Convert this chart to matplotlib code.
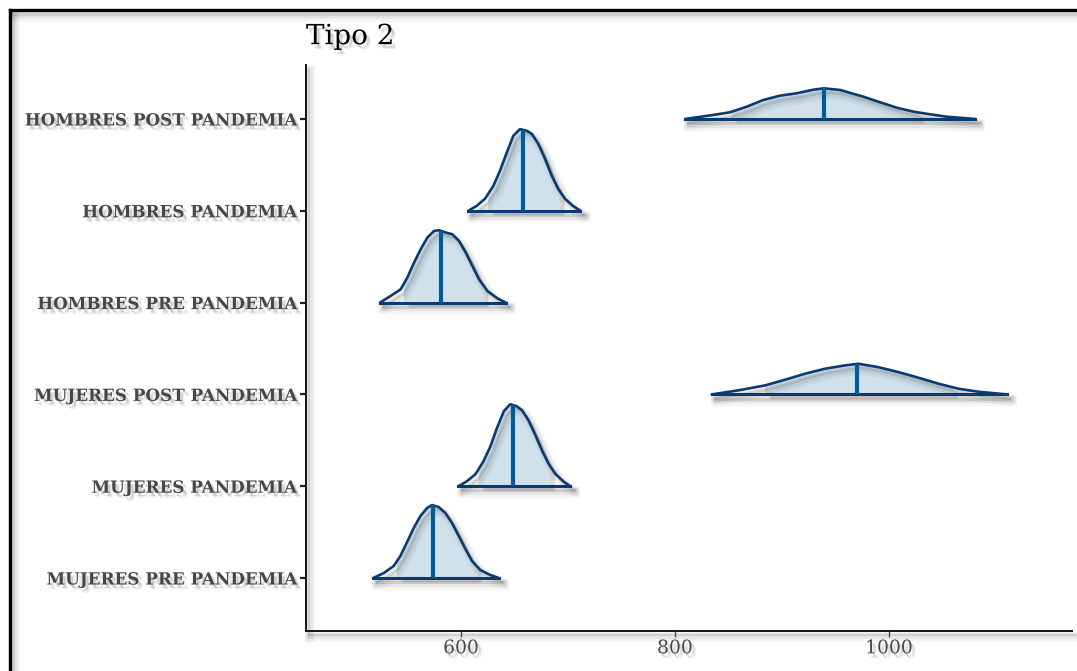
import matplotlib
matplotlib.use("Agg")
import matplotlib.pyplot as plt
import numpy as np
from matplotlib import patheffects as pe
from matplotlib.lines import Line2D

# ---------------- data ----------------
groups = ["HOMBRES POST PANDEMIA", "HOMBRES PANDEMIA", "HOMBRES PRE PANDEMIA",
          "MUJERES POST PANDEMIA", "MUJERES PANDEMIA", "MUJERES PRE PANDEMIA"]

hpost_x = [809.3, 835.8, 851.4, 867.0, 882.5, 898.1, 913.7, 929.3, 939.3, 954.2,
           976.0, 991.6, 1007.2, 1022.7, 1038.3, 1053.9, 1080.4]
hpost_d = [0, .044, .073, .134, .207, .254, .280, .319, .334, .316,
           .243, .182, .123, .080, .051, .025, 0]

hpan_x = [606.8, 614.7, 622.4, 630.2, 636.4, 642.7, 648.9, 655.1, 661.4, 666.1,
          672.2, 678.5, 684.8, 690.9, 697.5, 704.5, 711.5]
hpan_d = [0, .054, .131, .272, .436, .632, .817, .890, .871, .839,
          .730, .566, .381, .236, .127, .054, 0]

hpre_x = [524.3, 534.3, 543.6, 549.8, 556.1, 562.3, 568.5, 574.8, 579.4, 585.7,
          591.9, 598.1, 604.4, 610.6, 616.8, 624.6, 633.9, 641.8]
hpre_d = [0, .073, .145, .272, .436, .581, .708, .781, .788, .763,
          .744, .672, .545, .400, .254, .127, .047, 0]

mpost_x = [834.3, 859.2, 884.1, 902.8, 921.5, 940.2, 958.9, 971.3, 990.0, 1008.7,
           1027.4, 1046.1, 1064.8, 1083.5, 1110.0]
mpost_d = [0, .044, .098, .160, .225, .280, .316, .334, .297, .243,
           .182, .117, .062, .029, 0]

mpan_x = [597.5, 605.5, 613.5, 621.0, 627.5, 633.5, 640.0, 646.0, 652.0, 657.0,
          663.0, 669.5, 676.0, 682.0, 688.5, 695.5, 702.0]
mpan_d = [0, .054, .131, .272, .436, .632, .817, .893, .871, .828,
          .719, .556, .381, .240, .131, .054, 0]

mpre_x = [517.8, 527.8, 537.1, 543.3, 549.6, 555.8, 562.0, 568.3, 572.9, 579.2,
          585.4, 591.6, 597.9, 604.1, 610.3, 618.1, 627.4, 635.3]
mpre_d = [0, .054, .131, .240, .392, .545, .675, .763, .795, .773,
          .708, .599, .458, .316, .185, .087, .033, 0]

medians = [939.3, 658.2, 581.0, 969.8, 648.5, 574.0]
inner_lo = [853.0, 625.5, 546.7, 884.1, 616.5, 540.0]
inner_hi = [1028.3, 692.5, 621.5, 1060.1, 683.5, 615.0]

x_ticks = [600, 800, 1000]
title = "Tipo 2"

# ---------------- style ----------------
OUTLINE = "#0b3a70"
MEDIAN = "#005b96"
FILL = "#d1e1ec"
TEXTC = "#474747"

W, H = 1077, 671
fig = plt.figure(figsize=(W / 100, H / 100), dpi=100)
ax = fig.add_axes([306 / W, (H - 631) / H, (1072 - 306) / W, (631 - 65) / H])

def line_shadow(lw):
    return [pe.SimpleLineShadow(offset=(3, -4), shadow_color="k", alpha=0.04, linewidth=lw + 6),
            pe.SimpleLineShadow(offset=(3, -3.5), shadow_color="k", alpha=0.06, linewidth=lw + 3),
            pe.SimpleLineShadow(offset=(2.5, -3), shadow_color="k", alpha=0.10, linewidth=lw),
            pe.Normal()]

def patch_shadow():
    return [pe.SimplePatchShadow(offset=(4, -4), shadow_rgbFace="k", alpha=0.06),
            pe.SimplePatchShadow(offset=(3, -3), shadow_rgbFace="k", alpha=0.10),
            pe.Normal()]

def text_shadow():
    return [pe.SimplePatchShadow(offset=(3, -3.5), shadow_rgbFace="k", alpha=0.08),
            pe.SimplePatchShadow(offset=(2, -2.5), shadow_rgbFace="k", alpha=0.12),
            pe.Normal()]

xs_all = [hpost_x, hpan_x, hpre_x, mpost_x, mpan_x, mpre_x]
ds_all = [hpost_d, hpan_d, hpre_d, mpost_d, mpan_d, mpre_d]
n = len(groups)
ypos = [n - i for i in range(n)]

for xs, ds, y0, med, lo, hi in zip(xs_all, ds_all, ypos, medians, inner_lo, inner_hi):
    xs = np.asarray(xs, float)
    ds = np.asarray(ds, float)
    # inner interval polygon
    mask = (xs > lo) & (xs < hi)
    xi = np.concatenate([[lo], xs[mask], [hi]])
    yi = np.interp(xi, xs, ds)
    px = np.concatenate([[lo], xi, [hi]])
    py = np.concatenate([[y0], y0 + yi, [y0]])
    poly = ax.fill(px, py, color=FILL, lw=0, zorder=2)[0]
    poly.set_path_effects(patch_shadow())
    # outline
    l1, = ax.plot(xs, y0 + ds, color=OUTLINE, lw=1.9, zorder=3, solid_capstyle="round",
                  solid_joinstyle="round")
    l1.set_path_effects(line_shadow(1.9))
    # baseline
    l2, = ax.plot([xs[0], xs[-1]], [y0, y0], color=OUTLINE, lw=2.2, zorder=3)
    l2.set_path_effects(line_shadow(2.2))
    # median
    hm = np.interp(med, xs, ds)
    ax.plot([med, med], [y0, y0 + hm], color=MEDIAN, lw=3.0, zorder=4,
            solid_capstyle="butt")

ax.set_xlim(455.1, 1171.0)
ax.set_ylim(0.423, 6.588)

ax.set_yticks(ypos)
ax.set_yticklabels(groups, fontsize=12.1, fontweight="bold", family="DejaVu Serif", color=TEXTC)
ax.set_xticks(x_ticks)
ax.set_xticklabels([str(v) for v in x_ticks], fontsize=13.5, family="DejaVu Serif", color=TEXTC)
ax.tick_params(axis="y", length=4, width=1.6, color="#222222", pad=3)
ax.tick_params(axis="x", length=4, width=1.0, color="#555555", pad=2)
for lab in ax.get_yticklabels() + ax.get_xticklabels():
    lab.set_path_effects(text_shadow())

for s in ["top", "right"]:
    ax.spines[s].set_visible(False)
for s in ["left", "bottom"]:
    ax.spines[s].set_linewidth(1.4)
    ax.spines[s].set_color("#111111")
    ax.spines[s].set_path_effects(line_shadow(1.4))

t = ax.set_title(title, loc="left", fontsize=20, family="DejaVu Serif", color="black", pad=15)
t.set_path_effects(text_shadow())

# figure border (left and top, cropped)
bx = 10 / W
by = 1 - 10 / H
b1 = Line2D([bx, bx], [-0.1, by], transform=fig.transFigure, color="black", lw=2.4)
b2 = Line2D([bx, 1.1], [by, by], transform=fig.transFigure, color="black", lw=2.4,
            solid_capstyle="projecting")
for b in (b1, b2):
    b.set_path_effects(line_shadow(2.4))
    fig.add_artist(b)

fig.savefig("out.png", dpi=100)
